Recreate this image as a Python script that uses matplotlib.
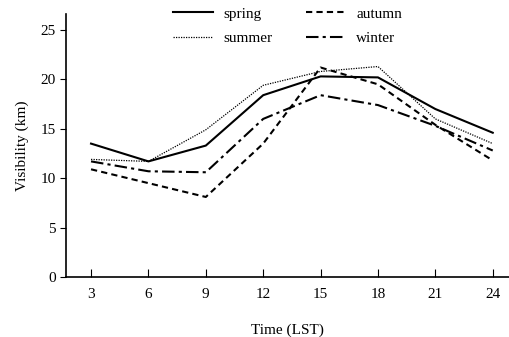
import matplotlib
matplotlib.use("Agg")
import matplotlib.pyplot as plt

hours = [3, 6, 9, 12, 15, 18, 21, 24]
spring = [13.5, 11.7, 13.3, 18.4, 20.3, 20.2, 17.0, 14.6]
summer = [11.9, 11.7, 14.9, 19.4, 20.8, 21.3, 16.0, 13.5]
autumn = [10.9, 9.5, 8.1, 13.5, 21.2, 19.5, 15.4, 11.8]
winter = [11.7, 10.7, 10.6, 16.0, 18.4, 17.4, 15.3, 12.8]
y_ticks = [0, 5, 10, 15, 20, 25]

plt.rcParams["font.family"] = ["Liberation Serif", "DejaVu Serif"]

fig = plt.figure(figsize=(5.09, 3.37), dpi=100)
ax = fig.add_axes([0.130, 0.178, 0.870, 0.780])

ax.plot(hours, spring, color="black", lw=1.5, ls="-", label="spring")
ax.plot(hours, summer, color="black", lw=0.9, ls=(0, (1, 1)), label="summer")
ax.plot(hours, autumn, color="black", lw=1.5, ls=(0, (3, 2)), label="autumn")
ax.plot(hours, winter, color="black", lw=1.5, ls=(0, (6, 2, 1.5, 2)), label="winter")

ax.set_xlim(1.7, 24.85)
ax.set_ylim(0, 26.6)
ax.set_xticks(hours)
ax.set_yticks(y_ticks)
ax.tick_params(axis="x", direction="in", length=6, labelsize=11, pad=8)
ax.tick_params(axis="y", direction="out", length=4, labelsize=11)

for s in ["top", "right"]:
    ax.spines[s].set_visible(False)
ax.spines["left"].set_linewidth(1.2)
ax.spines["bottom"].set_linewidth(1.2)

ax.set_xlabel("Time (LST)", fontsize=11, labelpad=16)
ax.set_ylabel("Visibility (km)", fontsize=11, labelpad=8)

ax.legend(ncol=2, loc="upper center", bbox_to_anchor=(0.50, 1.08),
          frameon=False, fontsize=11, handlelength=2.6, handletextpad=0.7,
          columnspacing=2.2, labelspacing=0.7)

fig.savefig("out.png", dpi=100)
